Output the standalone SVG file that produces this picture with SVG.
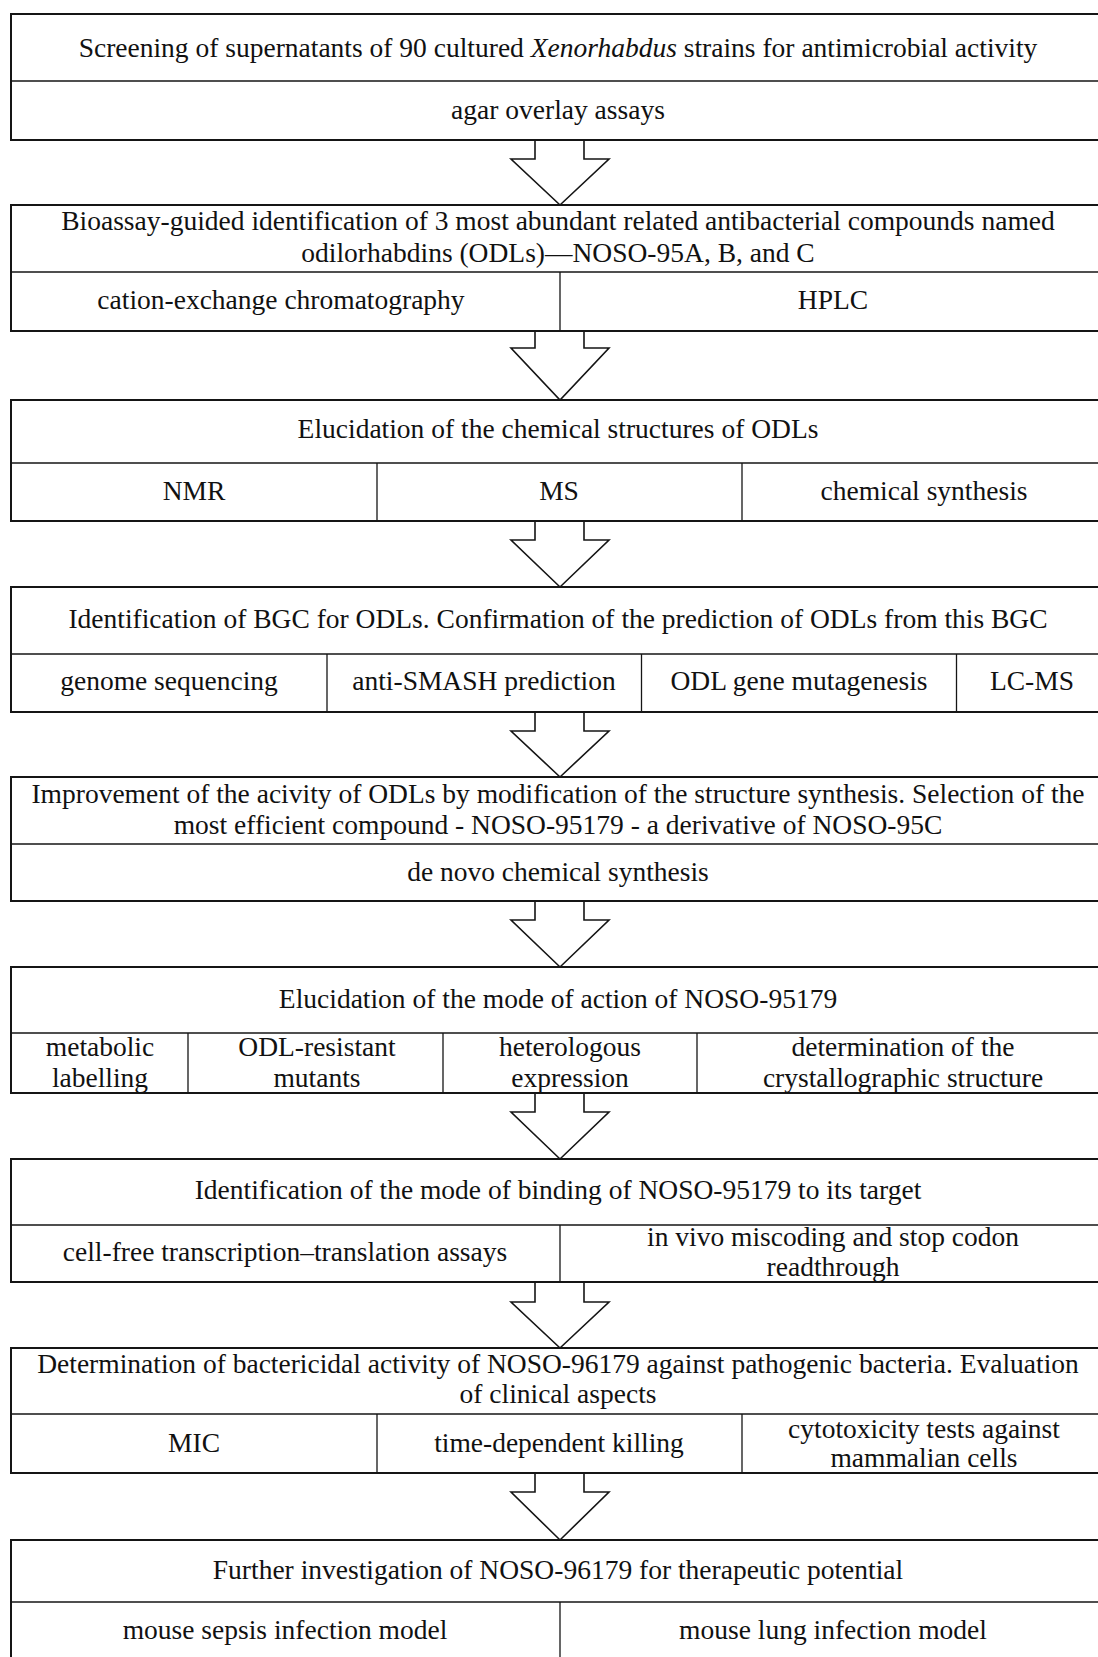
<svg xmlns="http://www.w3.org/2000/svg" width="1098" height="1657" viewBox="0 0 1098 1657">
<style>
.box{fill:#fff;stroke:#151515;stroke-width:2}
.div{stroke:#151515;stroke-width:1.6}
.cell{stroke:#151515;stroke-width:1.3}
.arrow{fill:#fff;stroke:#151515;stroke-width:1.6;stroke-linejoin:miter}
text{font-family:"Liberation Serif","Times New Roman",serif;font-size:27.5px;fill:#111;text-anchor:middle}
.it{font-style:italic}
</style>
<rect x="0" y="0" width="1098" height="1657" fill="#fff"/>
<g id="connectors">
<path class="arrow" d="M535,140 V159 H511 L560,205 L609,159 H584 V140"/>
<path class="arrow" d="M535,331 V348 H511 L560,400 L609,348 H584 V331"/>
<path class="arrow" d="M535,521 V540 H511 L560,587 L609,540 H584 V521"/>
<path class="arrow" d="M535,712 V731 H511 L560,777 L609,731 H584 V712"/>
<path class="arrow" d="M535,901 V920 H511 L560,967 L609,920 H584 V901"/>
<path class="arrow" d="M535,1093 V1112 H511 L560,1159 L609,1112 H584 V1093"/>
<path class="arrow" d="M535,1282 V1302 H511 L560,1348 L609,1302 H584 V1282"/>
<path class="arrow" d="M535,1473 V1492 H511 L560,1540 L609,1492 H584 V1473"/>
</g>
<g id="step1">
<rect class="box" x="11" y="14" width="1098" height="126"/>
<line class="div" x1="11" y1="81" x2="1109" y2="81"/>
<text x="558" y="57">Screening of supernatants of 90 cultured <tspan class="it">Xenorhabdus</tspan> strains for antimicrobial activity</text>
<text x="558" y="119">agar overlay assays</text>
</g>
<g id="step2">
<rect class="box" x="11" y="205" width="1098" height="126"/>
<line class="div" x1="11" y1="272" x2="1109" y2="272"/>
<line class="cell" x1="560" y1="272" x2="560" y2="331"/>
<text x="558" y="230">Bioassay-guided identification of 3 most abundant related antibacterial compounds named</text>
<text x="558" y="262">odilorhabdins (ODLs)—NOSO-95A, B, and C</text>
<text x="281" y="309">cation-exchange chromatography</text>
<text x="833" y="309">HPLC</text>
</g>
<g id="step3">
<rect class="box" x="11" y="400" width="1098" height="121"/>
<line class="div" x1="11" y1="463" x2="1109" y2="463"/>
<line class="cell" x1="377" y1="463" x2="377" y2="521"/>
<line class="cell" x1="742" y1="463" x2="742" y2="521"/>
<text x="558" y="438">Elucidation of the chemical structures of ODLs</text>
<text x="194" y="500">NMR</text>
<text x="559" y="500">MS</text>
<text x="924" y="500">chemical synthesis</text>
</g>
<g id="step4">
<rect class="box" x="11" y="587" width="1098" height="125"/>
<line class="div" x1="11" y1="654" x2="1109" y2="654"/>
<line class="cell" x1="327" y1="654" x2="327" y2="712"/>
<line class="cell" x1="641.5" y1="654" x2="641.5" y2="712"/>
<line class="cell" x1="956.5" y1="654" x2="956.5" y2="712"/>
<text x="558" y="628">Identification of BGC for ODLs. Confirmation of the prediction of ODLs from this BGC</text>
<text x="169" y="690">genome sequencing</text>
<text x="484" y="690">anti-SMASH prediction</text>
<text x="799" y="690">ODL gene mutagenesis</text>
<text x="1032" y="690">LC-MS</text>
</g>
<g id="step5">
<rect class="box" x="11" y="777" width="1098" height="124"/>
<line class="div" x1="11" y1="844" x2="1109" y2="844"/>
<text x="558" y="803">Improvement of the acivity of ODLs by modification of the structure synthesis. Selection of the</text>
<text x="558" y="834">most efficient compound - NOSO-95179 - a derivative of NOSO-95C</text>
<text x="558" y="881">de novo chemical synthesis</text>
</g>
<g id="step6">
<rect class="box" x="11" y="967" width="1098" height="126"/>
<line class="div" x1="11" y1="1033" x2="1109" y2="1033"/>
<line class="cell" x1="188" y1="1033" x2="188" y2="1093"/>
<line class="cell" x1="443" y1="1033" x2="443" y2="1093"/>
<line class="cell" x1="697" y1="1033" x2="697" y2="1093"/>
<text x="558" y="1008">Elucidation of the mode of action of NOSO-95179</text>
<text x="100" y="1056">metabolic</text>
<text x="100" y="1087">labelling</text>
<text x="317" y="1056">ODL-resistant</text>
<text x="317" y="1087">mutants</text>
<text x="570" y="1056">heterologous</text>
<text x="570" y="1087">expression</text>
<text x="903" y="1056">determination of the</text>
<text x="903" y="1087">crystallographic structure</text>
</g>
<g id="step7">
<rect class="box" x="11" y="1159" width="1098" height="123"/>
<line class="div" x1="11" y1="1225" x2="1109" y2="1225"/>
<line class="cell" x1="560" y1="1225" x2="560" y2="1282"/>
<text x="558" y="1199">Identification of the mode of binding of NOSO-95179 to its target</text>
<text x="285" y="1261">cell-free transcription–translation assays</text>
<text x="833" y="1246">in vivo miscoding and stop codon</text>
<text x="833" y="1276">readthrough</text>
</g>
<g id="step8">
<rect class="box" x="11" y="1348" width="1098" height="125"/>
<line class="div" x1="11" y1="1414" x2="1109" y2="1414"/>
<line class="cell" x1="377" y1="1414" x2="377" y2="1473"/>
<line class="cell" x1="742" y1="1414" x2="742" y2="1473"/>
<text x="558" y="1373">Determination of bactericidal activity of NOSO-96179 against pathogenic bacteria. Evaluation</text>
<text x="558" y="1403">of clinical aspects</text>
<text x="194" y="1452">MIC</text>
<text x="559" y="1452">time-dependent killing</text>
<text x="924" y="1438">cytotoxicity tests against</text>
<text x="924" y="1467">mammalian cells</text>
</g>
<g id="step9">
<rect class="box" x="11" y="1540" width="1098" height="122"/>
<line class="div" x1="11" y1="1602" x2="1109" y2="1602"/>
<line class="cell" x1="560" y1="1602" x2="560" y2="1662"/>
<text x="558" y="1579">Further investigation of NOSO-96179 for therapeutic potential</text>
<text x="285" y="1639">mouse sepsis infection model</text>
<text x="833" y="1639">mouse lung infection model</text>
</g>
</svg>
